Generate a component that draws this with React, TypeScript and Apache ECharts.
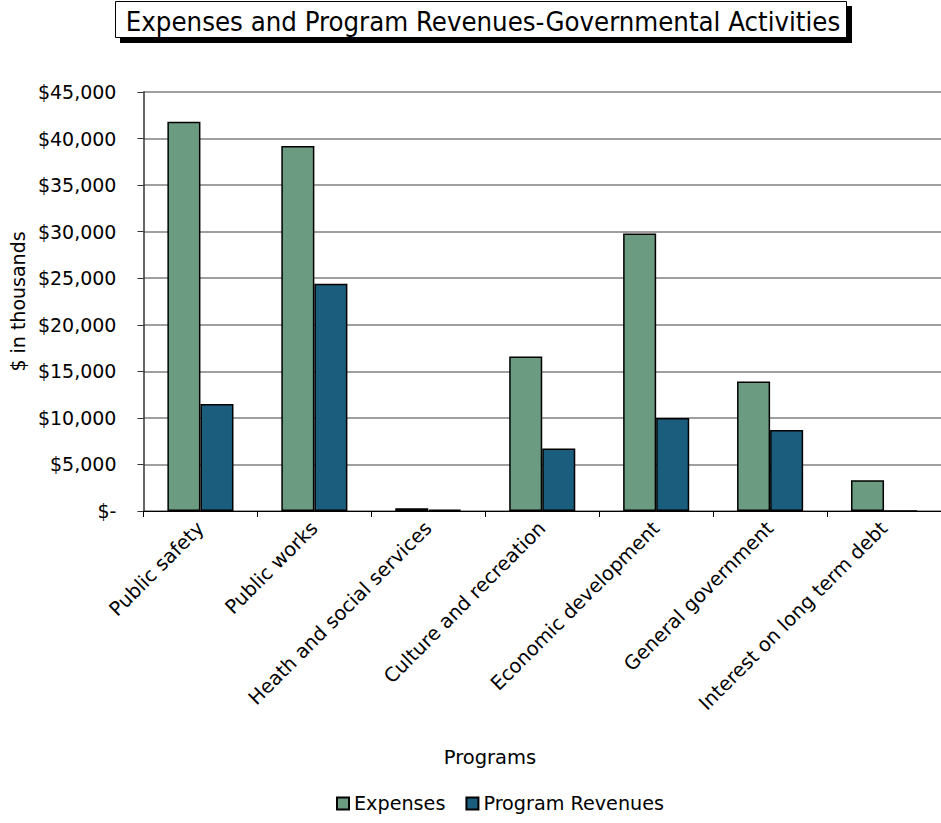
import React, { useEffect, useRef } from "react";
import * as echarts from "echarts";

const categories = [
  "Public safety",
  "Public works",
  "Heath and social services",
  "Culture and recreation",
  "Economic development",
  "General government",
  "Interest on long term debt",
];
const expenses = [41800, 39200, 300, 16600, 29800, 13900, 3300];
const programRevenues = [11500, 24400, 150, 6700, 10000, 8700, 0];
const seriesNames = ["Expenses", "Program Revenues"];
const titleText = "Expenses and Program Revenues-Governmental Activities";
const yAxisName = "$ in thousands";
const xAxisName = "Programs";

const FONT = "'DejaVu Sans', sans-serif";
const TFONT = "'DejaVu Sans Condensed', 'DejaVu Sans', sans-serif";

function fmt(v: number): string {
  if (v === 0) return "$-";
  return "$" + v.toLocaleString("en-US");
}

export default function App() {
  const ref = useRef<HTMLDivElement>(null);
  useEffect(() => {
    if (!ref.current) return;
    const chart = echarts.init(ref.current, undefined, { renderer: "svg" });
    chart.setOption({
      animation: false,
      textStyle: { fontFamily: FONT, color: "#000" },
      graphic: [
        { type: "rect", shape: { x: 120, y: 6, width: 732, height: 37 }, style: { fill: "#000" } },
        { type: "rect", shape: { x: 115.5, y: 1.5, width: 731, height: 36 }, style: { fill: "#fff", stroke: "#000", lineWidth: 1 } },
        {
          type: "text",
          x: 483,
          y: 21,
          style: { text: titleText, font: `27.3px ${TFONT}`, fill: "#000", align: "center", verticalAlign: "middle" },
        },
        {
          type: "text",
          x: 490,
          y: 757,
          style: { text: xAxisName, font: `19.5px ${FONT}`, fill: "#000", align: "center", verticalAlign: "middle" },
        },
      ],
      legend: {
        bottom: 5,
        left: 331,
        itemWidth: 12,
        itemHeight: 12,
        itemGap: 20,
        icon: "rect",
        textStyle: { fontSize: 19.2, fontFamily: FONT, color: "#000" },
        data: seriesNames,
      },
      grid: { left: 143, top: 92, bottom: 312, right: -8 },
      xAxis: {
        type: "category",
        data: categories,
        axisLine: { lineStyle: { color: "#000", width: 1 } },
        axisTick: { show: true, length: 6, lineStyle: { color: "#000" } },
        axisLabel: { rotate: 45, fontSize: 19.5, fontFamily: FONT, color: "#000", margin: 14, interval: 0 },
      },
      yAxis: {
        type: "value",
        min: 0,
        max: 45000,
        interval: 5000,
        name: yAxisName,
        nameLocation: "middle",
        nameGap: 115,
        nameTextStyle: { fontSize: 19, fontFamily: FONT, color: "#000" },
        axisLine: { show: true, lineStyle: { color: "#333", width: 1.5 } },
        axisTick: { show: true, length: 6, lineStyle: { color: "#333" } },
        axisLabel: { fontSize: 19, fontFamily: FONT, color: "#000", margin: 27, formatter: (v: number) => fmt(v) },
        splitLine: { lineStyle: { color: "#7f7f7f", width: 1.5 } },
      },
      series: [
        {
          name: seriesNames[0],
          type: "bar",
          data: expenses,
          barWidth: "29%",
          barGap: "0%",
          itemStyle: { color: "#6b9b81", borderColor: "#000", borderWidth: 1.5 },
        },
        {
          name: seriesNames[1],
          type: "bar",
          data: programRevenues,
          barWidth: "29%",
          barGap: "0%",
          itemStyle: { color: "#1b5d7c", borderColor: "#000", borderWidth: 1.5 },
        },
      ],
    });
    return () => chart.dispose();
  }, []);
  return (
    <div style={{ position: "absolute", left: 0, top: 0, width: 941, height: 823, overflow: "hidden" }}>
      <div ref={ref} style={{ width: 941, height: 823 }} />
    </div>
  );
}
